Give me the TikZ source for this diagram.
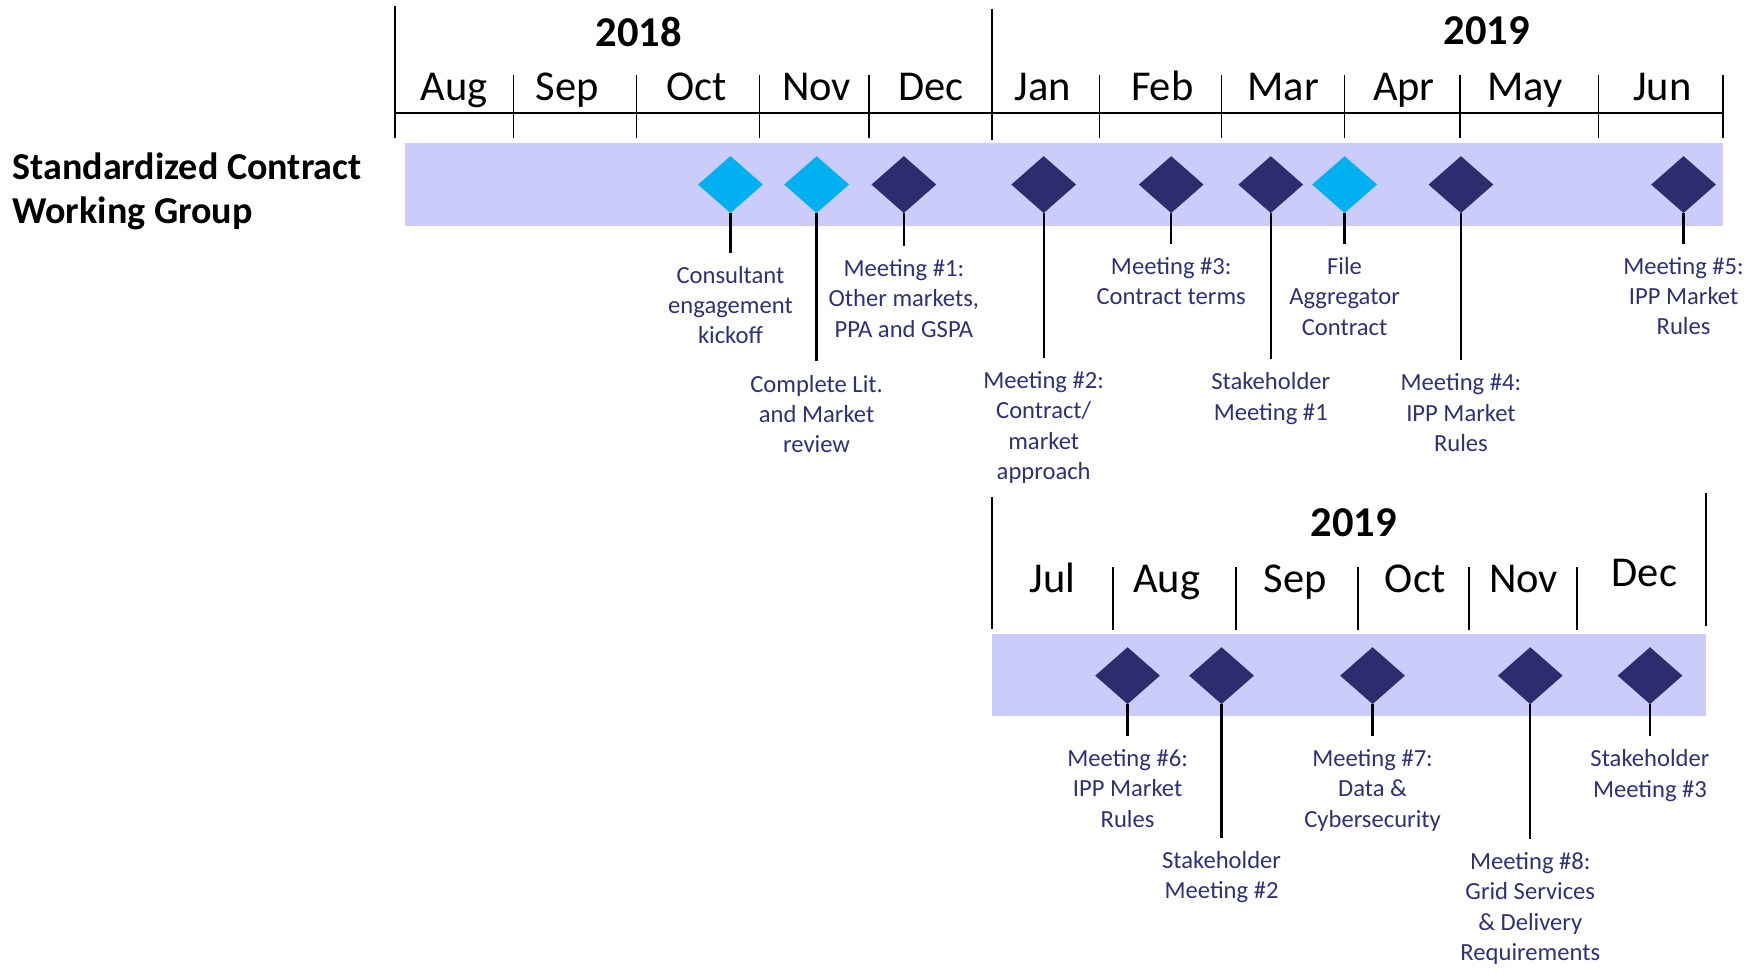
\documentclass[tikz,border=0pt]{standalone}
\usepackage{fontspec}
\setmainfont{Carlito}
\usetikzlibrary{shapes.geometric}
\definecolor{band}{RGB}{204,204,250}
\definecolor{navy}{RGB}{43,45,110}
\definecolor{cyanm}{RGB}{0,176,240}
\definecolor{lbltxt}{RGB}{46,49,120}
\begin{document}
\begin{tikzpicture}[x=1pt,y=-1pt,
 ms/.style={diamond, minimum width=58pt, minimum height=51pt, inner sep=0pt},
 dk/.style={ms, fill=navy},
 cy/.style={ms, fill=cyanm},
 lbl/.style={align=center, font=\fontsize{22}{27}\selectfont, text=lbltxt, inner sep=0pt, anchor=north},
 mon/.style={font=\fontsize{38}{40}\selectfont, anchor=base, inner sep=0pt},
 yr/.style={font=\fontsize{38}{40}\selectfont\bfseries, anchor=base, inner sep=0pt},
 stem/.style={line width=2pt, black, shorten >=12pt},
 tickl/.style={line width=1.5pt, black},
]
\useasboundingbox (0,0) rectangle (1568,870);
% bands
\fill[band] (362,128) rectangle (1540,202);
\fill[band] (887,567) rectangle (1525,640);
% group label
\node[font=\fontsize{34}{40}\selectfont\bfseries, align=left, anchor=north west, inner sep=0pt] (grp) at (11,136) {Standardized Contract\\Working Group};
% top axis
\draw[line width=2pt] (353,101) -- (1540,101);
\draw[tickl] (353,5) -- (353,123);
\draw[tickl] (887,8) -- (887,125);
\foreach \x in {459,569,679,777,983,1092,1202,1305,1429,1540} \draw[tickl] (\x,67) -- (\x,123);
\node[yr] (y18) at (571,42) {2018};
\node[yr] (y19a) at (1329,40) {2019};
\node[mon] (mAug) at (406,90) {Aug};
\node[mon] (mSep) at (507,90) {Sep};
\node[mon] (mOct) at (623,90) {Oct};
\node[mon] (mNov) at (730,90) {Nov};
\node[mon] (mDec) at (832,90) {Dec};
\node[mon] (mJan) at (932,90) {Jan};
\node[mon] (mFeb) at (1039,90) {Feb};
\node[mon] (mMar) at (1147,90) {Mar};
\node[mon] (mApr) at (1255,90) {Apr};
\node[mon] (mMay) at (1363,90) {May};
\node[mon] (mJun) at (1486,90) {Jun};
% bottom axis
\draw[tickl] (887,444) -- (887,562);
\draw[tickl] (1525,441) -- (1525,560);
\foreach \x in {995,1105,1214,1313,1410} \draw[tickl] (\x,507) -- (\x,563);
\node[yr] (y19b) at (1210,480) {2019};
\node[mon] (nJul) at (941,530) {Jul};
\node[mon] (nAug) at (1043,530) {Aug};
\node[mon] (nSep) at (1158,530) {Sep};
\node[mon] (nOct) at (1265,530) {Oct};
\node[mon] (nNov) at (1362,530) {Nov};
\node[mon] (nDec) at (1470,524) {Dec};
% top diamonds
\node[cy] (d1) at (653,165) {};
\node[cy] (d2) at (730,165) {};
\node[dk] (d3) at (808,165) {};
\node[dk] (d4) at (933,165) {};
\node[dk] (d5) at (1047,165) {};
\node[dk] (d6) at (1136,165) {};
\node[cy] (d7) at (1202,165) {};
\node[dk] (d8) at (1306,165) {};
\node[dk] (d9) at (1505,165) {};
% top labels
\node[lbl] (l1) at (653,238) {Consultant\\engagement\\kickoff};
\node[lbl] (l2) at (730,335) {Complete Lit.\\and Market\\review};
\node[lbl] (l3) at (808,232) {Meeting \#1:\\Other markets,\\PPA and GSPA};
\node[lbl] (l4) at (933,332) {Meeting \#2:\\Contract/\\market\\approach};
\node[lbl] (l5) at (1047,230) {Meeting \#3:\\Contract terms};
\node[lbl] (l6) at (1136,333) {Stakeholder\\Meeting \#1};
\node[lbl] (l7) at (1202,230) {File\\Aggregator\\Contract};
\node[lbl] (l8) at (1306,334) {Meeting \#4:\\IPP Market\\Rules};
\node[lbl] (l9) at (1505,230) {Meeting \#5:\\IPP Market\\Rules};
\foreach \i in {1,...,9} \draw[stem] (d\i.south) -- (l\i.north);
% bottom diamonds
\node[dk] (e1) at (1008,604) {};
\node[dk] (e2) at (1092,604) {};
\node[dk] (e3) at (1227,604) {};
\node[dk] (e4) at (1368,604) {};
\node[dk] (e5) at (1475,604) {};
\node[lbl] (k1) at (1008,670) {Meeting \#6:\\IPP Market\\Rules};
\node[lbl] (k2) at (1092,761) {Stakeholder\\Meeting \#2};
\node[lbl] (k3) at (1227,670) {Meeting \#7:\\Data \&\\Cybersecurity};
\node[lbl] (k4) at (1368,762) {Meeting \#8:\\Grid Services\\\& Delivery\\Requirements};
\node[lbl] (k5) at (1475,670) {Stakeholder\\Meeting \#3};
\foreach \i in {1,...,5} \draw[stem] (e\i.south) -- (k\i.north);
\end{tikzpicture}
\end{document}
